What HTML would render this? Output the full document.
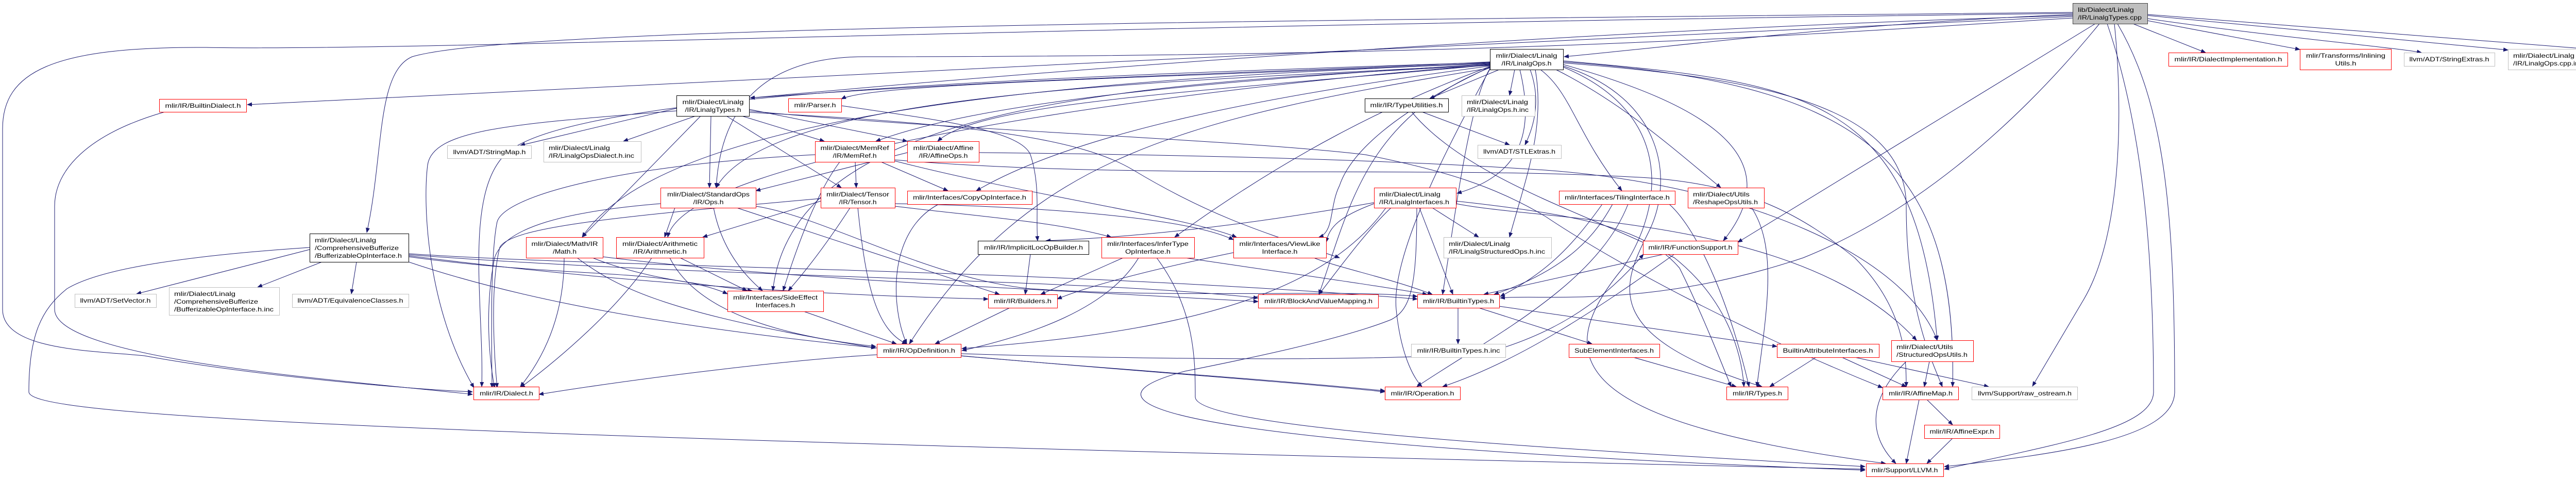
<!DOCTYPE html>
<html><head><meta charset="utf-8"><style>
html,body{margin:0;padding:0;background:#fff;width:5279px;height:931px;overflow:hidden;}
svg{display:block;position:absolute;left:0;top:0;}
text{font-family:"Liberation Sans",sans-serif;font-size:12px;fill:#000;}
.e{fill:none;stroke:#191970;stroke-width:1;}
</style></head><body>
<svg width="5279" height="931" viewBox="0 0 5279 931" xmlns="http://www.w3.org/2000/svg" overflow="hidden">
<defs><marker id="a" markerWidth="10" markerHeight="8" refX="9" refY="4" orient="auto" markerUnits="userSpaceOnUse"><path d="M0,0 L10,4 L0,8 z" fill="#191970"/></marker></defs>
<g class="e" marker-end="url(#a)">
<path d="M4023,28 C3600,45 3300,85 3036,110"/>
<path d="M4023,30 C3000,60 2000,140 1456,190"/>
<path d="M4023,32 C3000,80 1500,150 480,203"/>
<path d="M4023,24 C2500,40 1000,50 800,110 C730,140 745,300 712,451"/>
<path d="M4023,26 C2000,50 800,100 400,92 C100,90 5,140 5,250 L5,600 C5,680 180,680 280,690 C500,730 800,755 917,760"/>
<path d="M4140,46 L4281,102"/>
<path d="M4168,40 L4464,96"/>
<path d="M4168,36 C4400,70 4650,92 4700,102"/>
<path d="M4168,30 L4868,97"/>
<path d="M4168,28 L5049,97"/>
<path d="M4104,46 C4120,200 4121,450 4045,580 L3945,749"/>
<path d="M4110,46 C4200,200 4221,400 4221,760 C4221,850 4000,880 3774,905"/>
<path d="M4090,46 C4160,250 4180,500 4180,760 C4180,830 4000,860 3774,910"/>
<path d="M4067,46 L3373,470"/>
<path d="M4075,46 C3900,260 3700,420 3500,500 C3200,600 3000,570 2912,578"/>
<path d="M4023,35 C3600,60 3000,110 1680,110 C1500,110 1400,190 1390,364"/>
<path d="M2910,135 L2775,191"/>
<path d="M2940,135 L2930,185"/>
<path d="M2970,135 C2990,190 2980,240 2960,281"/>
<path d="M2950,135 C2980,260 2950,340 2828,375"/>
<path d="M2990,135 C3050,180 3060,260 3148,370"/>
<path d="M3020,135 C3150,200 3250,290 3340,364"/>
<path d="M2980,135 C3000,250 2960,350 2930,460"/>
<path d="M3034,125 C3300,200 3480,300 3345,467"/>
<path d="M3034,118 C3500,160 3720,180 3760,660"/>
<path d="M3034,120 C3600,160 3800,300 3790,750"/>
<path d="M3034,122 C3400,150 3700,200 3700,400 C3700,600 3750,700 3770,750"/>
<path d="M3034,128 C3230,190 3250,350 3200,450 C3150,550 3100,650 3420,750"/>
<path d="M3034,130 C3250,220 3230,400 3150,520 C3000,700 3060,820 3660,899"/>
<path d="M2892,120 C2500,140 2000,150 1456,190"/>
<path d="M2892,122 C2300,150 1700,160 1633,192"/>
<path d="M2892,124 C2300,160 1900,200 1700,274"/>
<path d="M2892,126 C2300,180 1900,200 1820,274"/>
<path d="M2892,125 C2300,160 1500,170 1390,364"/>
<path d="M2892,128 C2500,180 2100,250 1895,370"/>
<path d="M2892,129 C2700,200 2500,300 2280,460"/>
<path d="M2892,130 C2700,220 2620,300 2600,360 C2580,400 2590,450 2560,460"/>
<path d="M2892,131 C2650,230 2620,400 2560,571"/>
<path d="M2892,127 C2200,160 1540,200 1500,564"/>
<path d="M2892,132 C2300,230 2000,300 1765,667"/>
<path d="M2892,123 C2200,150 1300,200 1130,460"/>
<path d="M2892,126 C2300,170 1330,300 1296,460"/>
<path d="M2892,121 C2000,150 1100,180 980,300 C900,380 940,600 935,750"/>
<path d="M2892,133 C2850,200 2820,450 2800,571"/>
<path d="M2892,134 C2800,300 2700,500 2710,600 C2720,700 2750,740 2760,750"/>
<path d="M1313,210 L1010,282"/>
<path d="M1350,225 L1210,274"/>
<path d="M1313,215 C1000,240 840,250 830,320 C820,400 830,600 920,752"/>
<path d="M1360,225 L1130,460"/>
<path d="M1380,225 L1377,364"/>
<path d="M1410,225 L1633,364"/>
<path d="M1440,225 L1600,274"/>
<path d="M1454,212 L1761,274"/>
<path d="M1454,215 C1800,250 2400,270 2650,300 C2800,330 2900,360 3000,420 C3150,520 3400,650 3654,752"/>
<path d="M1454,218 C1900,240 2100,270 2200,330 C2350,420 2450,450 2600,500"/>
<path d="M320,217 C170,260 106,330 106,400 L106,600 C106,700 700,740 917,765"/>
<path d="M601,484 L265,570"/>
<path d="M625,508 L500,557"/>
<path d="M692,508 L682,570"/>
<path d="M601,480 C300,500 180,530 130,560 C80,600 56,650 56,760 C56,800 500,840 3620,910"/>
<path d="M793,492 C1200,520 2000,520 2751,580"/>
<path d="M793,494 C1400,540 2100,540 2442,578"/>
<path d="M793,496 C1300,560 1700,575 1918,580"/>
<path d="M793,498 C1100,540 1300,520 1412,570"/>
<path d="M793,508 C1300,680 2100,700 2688,758"/>
<path d="M1095,500 C1095,620 1050,700 1010,750"/>
<path d="M1120,500 C1200,560 1300,610 1700,675"/>
<path d="M1150,500 C1250,540 1350,550 1460,564"/>
<path d="M1170,498 C1500,540 2000,560 2442,585"/>
<path d="M1265,500 C1200,600 1080,700 1010,752"/>
<path d="M1320,500 L1450,564"/>
<path d="M1300,500 C1350,600 1500,650 1700,672"/>
<path d="M1310,403 L1290,460"/>
<path d="M1385,403 C1400,480 1440,530 1480,564"/>
<path d="M1430,403 L1940,571"/>
<path d="M1282,395 C1100,410 980,440 960,500 C940,600 950,700 960,752"/>
<path d="M1467,400 C1600,420 1800,540 2000,560 C2300,580 2600,560 2751,575"/>
<path d="M1593,390 L1364,460"/>
<path d="M1650,403 C1600,480 1560,530 1530,564"/>
<path d="M1665,403 C1680,550 1700,640 1760,667"/>
<path d="M1593,385 C1200,420 990,440 970,480 C950,560 960,700 965,752"/>
<path d="M1737,400 C1900,420 2050,430 2157,460"/>
<path d="M1737,395 C2000,400 2300,420 2394,465"/>
<path d="M1660,314 L1662,364"/>
<path d="M1710,314 L1840,370"/>
<path d="M1630,314 C1580,380 1540,500 1520,564"/>
<path d="M1736,312 C2000,380 2300,420 2400,460"/>
<path d="M1582,300 C1200,320 980,380 965,430 C950,500 955,700 955,752"/>
<path d="M1736,310 C2200,350 2800,320 3200,345 C3400,360 3500,420 3600,500 C3700,600 3700,700 3700,750"/>
<path d="M1761,296 L1467,370"/>
<path d="M1900,296 C2300,300 2700,310 3000,330 C3400,360 3700,500 3760,660"/>
<path d="M1633,205 C1800,230 1980,250 2000,300 C2020,360 2010,420 2014,467"/>
<path d="M1822,396 C1720,450 1730,600 1760,667"/>
<path d="M2000,493 L1990,571"/>
<path d="M2180,500 L2020,571"/>
<path d="M2210,500 C2150,600 2000,650 1867,680"/>
<path d="M2245,500 C2320,600 2320,700 2320,770 C2320,830 3000,870 3620,905"/>
<path d="M2300,500 C2500,530 2650,550 2770,571"/>
<path d="M2394,490 C2200,530 2100,560 2052,580"/>
<path d="M2550,500 C2600,520 2700,540 2780,571"/>
<path d="M1560,604 L1740,667"/>
<path d="M1960,597 L1815,667"/>
<path d="M1702,688 C1500,700 1200,740 1046,765"/>
<path d="M1865,690 C2200,720 2500,740 2688,760"/>
<path d="M1865,686 C2300,700 2800,700 2900,680 C3000,650 3100,600 3190,493"/>
<path d="M2830,597 L2830,667"/>
<path d="M2870,597 L3090,667"/>
<path d="M2910,594 L3449,672"/>
<path d="M3170,693 L3370,750"/>
<path d="M3525,693 L3435,750"/>
<path d="M3575,693 L3700,750"/>
<path d="M3600,693 L3860,750"/>
<path d="M3745,701 L3735,750"/>
<path d="M3700,701 C3620,780 3630,850 3680,899"/>
<path d="M3740,775 L3790,824"/>
<path d="M3725,775 L3700,899"/>
<path d="M3790,850 L3740,899"/>
<path d="M2780,403 L2870,460"/>
<path d="M2755,403 L2820,571"/>
<path d="M2667,395 C2600,420 2580,440 2574,470"/>
<path d="M2667,393 C2400,440 2200,460 2030,467"/>
<path d="M2690,403 C2550,600 2200,650 1867,676"/>
<path d="M2700,403 C2650,450 2600,520 2560,571"/>
<path d="M2826,395 C3000,430 3500,420 3720,660"/>
<path d="M2750,403 C2750,550 2740,600 2700,620 C2600,660 2400,700 2300,720 C2000,800 2500,870 3620,912"/>
<path d="M2826,390 C3100,420 3200,450 3260,520 C3300,600 3340,700 3360,750"/>
<path d="M3130,396 C3100,450 3050,520 2900,571"/>
<path d="M3110,396 C3050,480 3000,530 2912,575"/>
<path d="M3160,396 C3100,550 2900,650 2750,750"/>
<path d="M3240,396 C3300,450 3360,600 3395,750"/>
<path d="M3400,403 C3450,480 3430,600 3410,750"/>
<path d="M3230,493 L2880,571"/>
<path d="M3250,493 C3100,600 2950,700 2800,750"/>
<path d="M2760,217 L2930,281"/>
<path d="M2740,217 C2850,350 3100,420 3250,500 C3350,580 3380,680 3385,750"/>
</g>
<g stroke-width="1">
<rect x="4023.5" y="6.5" width="145" height="40" fill="#bfbfbf" stroke="#404040"/>
<text x="4033" y="23" textLength="109" lengthAdjust="spacingAndGlyphs">lib/Dialect/Linalg</text>
<text x="4033" y="38" textLength="124" lengthAdjust="spacingAndGlyphs">/IR/LinalgTypes.cpp</text>
<rect x="4209.5" y="102.5" width="231" height="26" fill="#fff" stroke="#ff0000"/>
<text x="4325" y="119" text-anchor="middle" textLength="209" lengthAdjust="spacingAndGlyphs">mlir/IR/DialectImplementation.h</text>
<rect x="4464.5" y="95.5" width="177" height="40" fill="#fff" stroke="#ff0000"/>
<text x="4553" y="112" text-anchor="middle" textLength="154" lengthAdjust="spacingAndGlyphs">mlir/Transforms/Inlining</text>
<text x="4553" y="127" text-anchor="middle" textLength="41" lengthAdjust="spacingAndGlyphs">Utils.h</text>
<rect x="4666.5" y="102.5" width="176" height="26" fill="#fff" stroke="#bfbfbf"/>
<text x="4754" y="119" text-anchor="middle" textLength="155" lengthAdjust="spacingAndGlyphs">llvm/ADT/StringExtras.h</text>
<rect x="4868.5" y="95.5" width="156" height="40" fill="#fff" stroke="#bfbfbf"/>
<text x="4878" y="112" textLength="119" lengthAdjust="spacingAndGlyphs">mlir/Dialect/Linalg</text>
<text x="4878" y="127" textLength="135" lengthAdjust="spacingAndGlyphs">/IR/LinalgOps.cpp.inc</text>
<rect x="5049.5" y="95.5" width="223" height="40" fill="#fff" stroke="#bfbfbf"/>
<text x="5059" y="112" textLength="119" lengthAdjust="spacingAndGlyphs">mlir/Dialect/Linalg</text>
<text x="5059" y="127" textLength="202" lengthAdjust="spacingAndGlyphs">/IR/LinalgStructuredOps.cpp.inc</text>
<rect x="2892.5" y="95.5" width="142" height="40" fill="#fff" stroke="#000"/>
<text x="2963" y="112" text-anchor="middle" textLength="119" lengthAdjust="spacingAndGlyphs">mlir/Dialect/Linalg</text>
<text x="2963" y="127" text-anchor="middle" textLength="97" lengthAdjust="spacingAndGlyphs">/IR/LinalgOps.h</text>
<rect x="2649.5" y="191.5" width="162" height="26" fill="#fff" stroke="#000"/>
<text x="2730" y="208" text-anchor="middle" textLength="141" lengthAdjust="spacingAndGlyphs">mlir/IR/TypeUtilities.h</text>
<rect x="2837.5" y="185.5" width="142" height="40" fill="#fff" stroke="#bfbfbf"/>
<text x="2847" y="202" textLength="119" lengthAdjust="spacingAndGlyphs">mlir/Dialect/Linalg</text>
<text x="2847" y="217" textLength="120" lengthAdjust="spacingAndGlyphs">/IR/LinalgOps.h.inc</text>
<rect x="2868.5" y="281.5" width="162" height="26" fill="#fff" stroke="#bfbfbf"/>
<text x="2949" y="298" text-anchor="middle" textLength="140" lengthAdjust="spacingAndGlyphs">llvm/ADT/STLExtras.h</text>
<rect x="1313.5" y="185.5" width="141" height="40" fill="#fff" stroke="#000"/>
<text x="1384" y="202" text-anchor="middle" textLength="119" lengthAdjust="spacingAndGlyphs">mlir/Dialect/Linalg</text>
<text x="1384" y="217" text-anchor="middle" textLength="109" lengthAdjust="spacingAndGlyphs">/IR/LinalgTypes.h</text>
<rect x="309.5" y="192.5" width="169" height="25" fill="#fff" stroke="#ff0000"/>
<text x="394" y="209" text-anchor="middle" textLength="147" lengthAdjust="spacingAndGlyphs">mlir/IR/BuiltinDialect.h</text>
<rect x="1530.5" y="191.5" width="103" height="26" fill="#fff" stroke="#ff0000"/>
<text x="1582" y="208" text-anchor="middle" textLength="81" lengthAdjust="spacingAndGlyphs">mlir/Parser.h</text>
<rect x="868.5" y="282.5" width="163" height="25" fill="#fff" stroke="#bfbfbf"/>
<text x="950" y="299" text-anchor="middle" textLength="141" lengthAdjust="spacingAndGlyphs">llvm/ADT/StringMap.h</text>
<rect x="1055.5" y="274.5" width="189" height="40" fill="#fff" stroke="#bfbfbf"/>
<text x="1065" y="291" textLength="119" lengthAdjust="spacingAndGlyphs">mlir/Dialect/Linalg</text>
<text x="1065" y="306" textLength="166" lengthAdjust="spacingAndGlyphs">/IR/LinalgOpsDialect.h.inc</text>
<rect x="1582.5" y="274.5" width="154" height="40" fill="#fff" stroke="#ff0000"/>
<text x="1659" y="291" text-anchor="middle" textLength="133" lengthAdjust="spacingAndGlyphs">mlir/Dialect/MemRef</text>
<text x="1659" y="306" text-anchor="middle" textLength="85" lengthAdjust="spacingAndGlyphs">/IR/MemRef.h</text>
<rect x="1761.5" y="274.5" width="139" height="40" fill="#fff" stroke="#ff0000"/>
<text x="1831" y="291" text-anchor="middle" textLength="117" lengthAdjust="spacingAndGlyphs">mlir/Dialect/Affine</text>
<text x="1831" y="306" text-anchor="middle" textLength="95" lengthAdjust="spacingAndGlyphs">/IR/AffineOps.h</text>
<rect x="1282.5" y="364.5" width="185" height="39" fill="#fff" stroke="#ff0000"/>
<text x="1375" y="381" text-anchor="middle" textLength="160" lengthAdjust="spacingAndGlyphs">mlir/Dialect/StandardOps</text>
<text x="1375" y="396" text-anchor="middle" textLength="59" lengthAdjust="spacingAndGlyphs">/IR/Ops.h</text>
<rect x="1593.5" y="364.5" width="144" height="39" fill="#fff" stroke="#ff0000"/>
<text x="1665" y="381" text-anchor="middle" textLength="122" lengthAdjust="spacingAndGlyphs">mlir/Dialect/Tensor</text>
<text x="1665" y="396" text-anchor="middle" textLength="73" lengthAdjust="spacingAndGlyphs">/IR/Tensor.h</text>
<rect x="1761.5" y="370.5" width="242" height="26" fill="#fff" stroke="#ff0000"/>
<text x="1882" y="387" text-anchor="middle" textLength="220" lengthAdjust="spacingAndGlyphs">mlir/Interfaces/CopyOpInterface.h</text>
<rect x="2667.5" y="364.5" width="159" height="39" fill="#fff" stroke="#ff0000"/>
<text x="2677" y="381" textLength="119" lengthAdjust="spacingAndGlyphs">mlir/Dialect/Linalg</text>
<text x="2677" y="396" textLength="136" lengthAdjust="spacingAndGlyphs">/IR/LinalgInterfaces.h</text>
<rect x="3026.5" y="370.5" width="225" height="26" fill="#fff" stroke="#ff0000"/>
<text x="3139" y="387" text-anchor="middle" textLength="204" lengthAdjust="spacingAndGlyphs">mlir/Interfaces/TilingInterface.h</text>
<rect x="3276.5" y="364.5" width="148" height="39" fill="#fff" stroke="#ff0000"/>
<text x="3286" y="381" textLength="110" lengthAdjust="spacingAndGlyphs">mlir/Dialect/Utils</text>
<text x="3286" y="396" textLength="126" lengthAdjust="spacingAndGlyphs">/ReshapeOpsUtils.h</text>
<rect x="601.5" y="453.5" width="192" height="55" fill="#fff" stroke="#000"/>
<text x="611" y="470" textLength="119" lengthAdjust="spacingAndGlyphs">mlir/Dialect/Linalg</text>
<text x="611" y="485" textLength="163" lengthAdjust="spacingAndGlyphs">/ComprehensiveBufferize</text>
<text x="611" y="500" textLength="169" lengthAdjust="spacingAndGlyphs">/BufferizableOpInterface.h</text>
<rect x="1021.5" y="460.5" width="149" height="40" fill="#fff" stroke="#ff0000"/>
<text x="1096" y="477" text-anchor="middle" textLength="129" lengthAdjust="spacingAndGlyphs">mlir/Dialect/Math/IR</text>
<text x="1096" y="492" text-anchor="middle" textLength="46" lengthAdjust="spacingAndGlyphs">/Math.h</text>
<rect x="1196.5" y="460.5" width="170" height="40" fill="#fff" stroke="#ff0000"/>
<text x="1281" y="477" text-anchor="middle" textLength="146" lengthAdjust="spacingAndGlyphs">mlir/Dialect/Arithmetic</text>
<text x="1281" y="492" text-anchor="middle" textLength="104" lengthAdjust="spacingAndGlyphs">/IR/Arithmetic.h</text>
<rect x="1898.5" y="467.5" width="215" height="26" fill="#fff" stroke="#000"/>
<text x="2006" y="484" text-anchor="middle" textLength="192" lengthAdjust="spacingAndGlyphs">mlir/IR/ImplicitLocOpBuilder.h</text>
<rect x="2138.5" y="460.5" width="180" height="40" fill="#fff" stroke="#ff0000"/>
<text x="2228" y="477" text-anchor="middle" textLength="158" lengthAdjust="spacingAndGlyphs">mlir/Interfaces/InferType</text>
<text x="2228" y="492" text-anchor="middle" textLength="88" lengthAdjust="spacingAndGlyphs">OpInterface.h</text>
<rect x="2394.5" y="460.5" width="180" height="40" fill="#fff" stroke="#ff0000"/>
<text x="2484" y="477" text-anchor="middle" textLength="157" lengthAdjust="spacingAndGlyphs">mlir/Interfaces/ViewLike</text>
<text x="2484" y="492" text-anchor="middle" textLength="69" lengthAdjust="spacingAndGlyphs">Interface.h</text>
<rect x="2802.5" y="460.5" width="209" height="40" fill="#fff" stroke="#bfbfbf"/>
<text x="2812" y="477" textLength="119" lengthAdjust="spacingAndGlyphs">mlir/Dialect/Linalg</text>
<text x="2812" y="492" textLength="187" lengthAdjust="spacingAndGlyphs">/IR/LinalgStructuredOps.h.inc</text>
<rect x="3189.5" y="467.5" width="184" height="26" fill="#fff" stroke="#ff0000"/>
<text x="3281" y="484" text-anchor="middle" textLength="163" lengthAdjust="spacingAndGlyphs">mlir/IR/FunctionSupport.h</text>
<rect x="145.5" y="570.5" width="158" height="26" fill="#fff" stroke="#bfbfbf"/>
<text x="224" y="587" text-anchor="middle" textLength="137" lengthAdjust="spacingAndGlyphs">llvm/ADT/SetVector.h</text>
<rect x="328.5" y="557.5" width="214" height="54" fill="#fff" stroke="#bfbfbf"/>
<text x="338" y="574" textLength="119" lengthAdjust="spacingAndGlyphs">mlir/Dialect/Linalg</text>
<text x="338" y="589" textLength="163" lengthAdjust="spacingAndGlyphs">/ComprehensiveBufferize</text>
<text x="338" y="604" textLength="193" lengthAdjust="spacingAndGlyphs">/BufferizableOpInterface.h.inc</text>
<rect x="567.5" y="570.5" width="226" height="26" fill="#fff" stroke="#bfbfbf"/>
<text x="680" y="587" text-anchor="middle" textLength="205" lengthAdjust="spacingAndGlyphs">llvm/ADT/EquivalenceClasses.h</text>
<rect x="1412.5" y="564.5" width="186" height="40" fill="#fff" stroke="#ff0000"/>
<text x="1505" y="581" text-anchor="middle" textLength="164" lengthAdjust="spacingAndGlyphs">mlir/Interfaces/SideEffect</text>
<text x="1505" y="596" text-anchor="middle" textLength="77" lengthAdjust="spacingAndGlyphs">Interfaces.h</text>
<rect x="1918.5" y="571.5" width="134" height="26" fill="#fff" stroke="#ff0000"/>
<text x="1985" y="588" text-anchor="middle" textLength="112" lengthAdjust="spacingAndGlyphs">mlir/IR/Builders.h</text>
<rect x="2442.5" y="571.5" width="233" height="26" fill="#fff" stroke="#ff0000"/>
<text x="2559" y="588" text-anchor="middle" textLength="210" lengthAdjust="spacingAndGlyphs">mlir/IR/BlockAndValueMapping.h</text>
<rect x="2751.5" y="571.5" width="159" height="26" fill="#fff" stroke="#ff0000"/>
<text x="2831" y="588" text-anchor="middle" textLength="138" lengthAdjust="spacingAndGlyphs">mlir/IR/BuiltinTypes.h</text>
<rect x="1702.5" y="667.5" width="163" height="26" fill="#fff" stroke="#ff0000"/>
<text x="1784" y="684" text-anchor="middle" textLength="140" lengthAdjust="spacingAndGlyphs">mlir/IR/OpDefinition.h</text>
<rect x="2739.5" y="667.5" width="183" height="26" fill="#fff" stroke="#bfbfbf"/>
<text x="2831" y="684" text-anchor="middle" textLength="161" lengthAdjust="spacingAndGlyphs">mlir/IR/BuiltinTypes.h.inc</text>
<rect x="3045.5" y="667.5" width="176" height="26" fill="#fff" stroke="#ff0000"/>
<text x="3133" y="684" text-anchor="middle" textLength="154" lengthAdjust="spacingAndGlyphs">SubElementInterfaces.h</text>
<rect x="3449.5" y="667.5" width="198" height="26" fill="#fff" stroke="#ff0000"/>
<text x="3548" y="684" text-anchor="middle" textLength="175" lengthAdjust="spacingAndGlyphs">BuiltinAttributeInterfaces.h</text>
<rect x="3671.5" y="660.5" width="159" height="41" fill="#fff" stroke="#ff0000"/>
<text x="3681" y="677" textLength="110" lengthAdjust="spacingAndGlyphs">mlir/Dialect/Utils</text>
<text x="3681" y="692" textLength="138" lengthAdjust="spacingAndGlyphs">/StructuredOpsUtils.h</text>
<rect x="919.5" y="750.5" width="127" height="25" fill="#fff" stroke="#ff0000"/>
<text x="983" y="767" text-anchor="middle" textLength="104" lengthAdjust="spacingAndGlyphs">mlir/IR/Dialect.h</text>
<rect x="2688.5" y="750.5" width="146" height="25" fill="#fff" stroke="#ff0000"/>
<text x="2761" y="767" text-anchor="middle" textLength="123" lengthAdjust="spacingAndGlyphs">mlir/IR/Operation.h</text>
<rect x="3351.5" y="750.5" width="119" height="25" fill="#fff" stroke="#ff0000"/>
<text x="3411" y="767" text-anchor="middle" textLength="96" lengthAdjust="spacingAndGlyphs">mlir/IR/Types.h</text>
<rect x="3654.5" y="750.5" width="147" height="25" fill="#fff" stroke="#ff0000"/>
<text x="3728" y="767" text-anchor="middle" textLength="124" lengthAdjust="spacingAndGlyphs">mlir/IR/AffineMap.h</text>
<rect x="3827.5" y="750.5" width="205" height="25" fill="#fff" stroke="#bfbfbf"/>
<text x="3930" y="767" text-anchor="middle" textLength="182" lengthAdjust="spacingAndGlyphs">llvm/Support/raw_ostream.h</text>
<rect x="3735.5" y="824.5" width="146" height="26" fill="#fff" stroke="#ff0000"/>
<text x="3808" y="841" text-anchor="middle" textLength="125" lengthAdjust="spacingAndGlyphs">mlir/IR/AffineExpr.h</text>
<rect x="3622.5" y="899.5" width="150" height="25" fill="#fff" stroke="#ff0000"/>
<text x="3697" y="916" text-anchor="middle" textLength="129" lengthAdjust="spacingAndGlyphs">mlir/Support/LLVM.h</text>
</g>
</svg>
</body></html>
